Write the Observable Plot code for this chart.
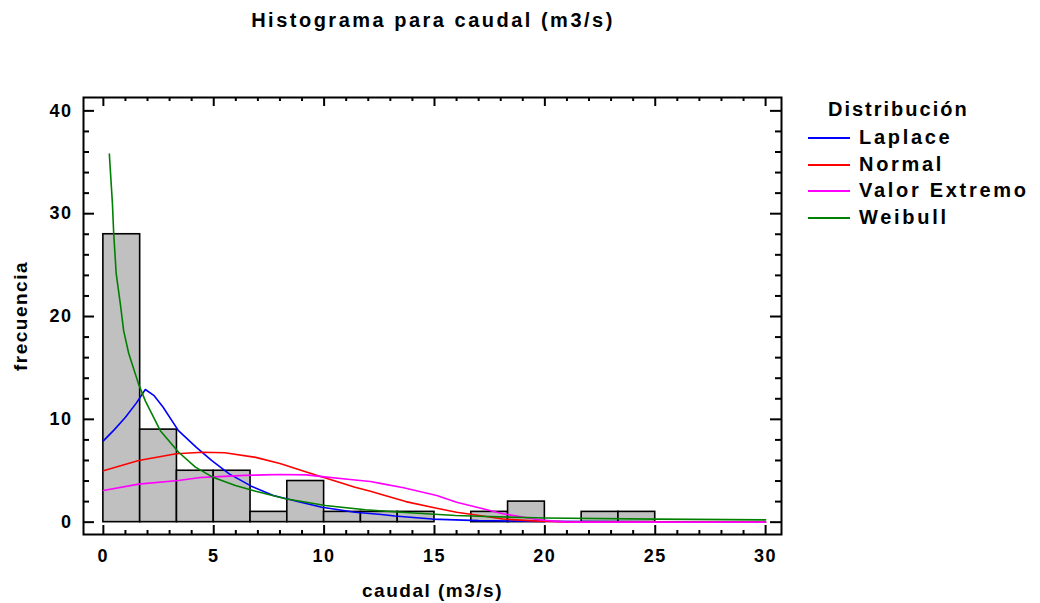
<!DOCTYPE html>
<html>
<head>
<meta charset="utf-8">
<script src="https://cdn.jsdelivr.net/npm/d3@7"></script>
<script src="https://cdn.jsdelivr.net/npm/@observablehq/plot@0.6"></script>
<style>
  body { margin: 0; background: #fff; }
  #wrap { position: relative; width: 1040px; height: 603px; overflow: hidden;
          font-family: "Liberation Sans", Arial, sans-serif; font-weight: bold; color: #000; }
  #plot { position: absolute; left: 0; top: 0; }
  #title { position: absolute; left: 0; top: 9px; width: 866px; text-align: center;
           font-size: 20px; line-height: 23px; letter-spacing: 2.5px; }
  .lg { position: absolute; font-size: 20px; line-height: 23px; letter-spacing: 2.7px; white-space: nowrap; }
  .sw { position: absolute; width: 42px; height: 2px; }
</style>
</head>
<body>
<div id="wrap">
  <div id="plot"></div>
  <div id="title">Histograma para caudal (m3/s)</div>
  <div id="legend"></div>
</div>
<script>
// ---- Histogram bins (caudal, m3/s) and counts ----
const binLo  = [0, 1.667, 3.333, 5, 6.667, 8.333, 10, 11.667, 13.333, 16.667, 18.333, 21.667, 23.333];
const binHi  = [1.667, 3.333, 5, 6.667, 8.333, 10, 11.667, 13.333, 15, 18.333, 20, 23.333, 25];
const counts = [28, 9, 5, 5, 1, 4, 1, 1, 1, 1, 2, 1, 1];

// ---- Fitted distributions ----
const series = ["Laplace", "Normal", "Valor Extremo", "Weibull"];
const colors = ["#0000ff", "#ff0000", "#ff00ff", "#008000"];

const laplaceX = [0, 0.5, 1.0, 1.5, 1.9, 2.3, 2.7, 3.4, 4.2, 4.9, 5.7, 6.7, 7.7, 8.8, 9.9, 11.4, 12.6, 13.2, 14.9, 17, 20, 25, 30];
const laplaceY = [7.9, 9.0, 10.2, 11.6, 12.9, 12.3, 11.2, 8.9, 7.3, 6.0, 4.7, 3.5, 2.6, 2.0, 1.45, 0.97, 0.75, 0.6, 0.3, 0.15, 0.08, 0.04, 0.02];

const normalX = [0, 1.6, 3.3, 4.5, 5.5, 6.9, 8.0, 9.3, 10.5, 11.4, 12.1, 12.6, 13.7, 15.1, 16.0, 16.8, 18.1, 19.7, 21, 22, 30];
const normalY = [5.0, 6.0, 6.65, 6.8, 6.75, 6.3, 5.7, 4.8, 4.0, 3.4, 3.0, 2.7, 2.0, 1.35, 0.97, 0.72, 0.3, 0.1, 0.03, 0, 0];

const extremoX = [0, 1.6, 3.4, 4.4, 5.0, 6.4, 7.3, 8.0, 9.2, 9.8, 11.4, 12.1, 12.6, 13.6, 15.1, 16.0, 16.6, 18.1, 19.65, 20.4, 21, 30];
const extremoY = [3.08, 3.7, 4.05, 4.35, 4.4, 4.55, 4.6, 4.63, 4.6, 4.45, 4.1, 3.95, 3.75, 3.35, 2.6, 1.94, 1.62, 0.82, 0.26, 0.1, 0, 0];

const weibullX = [0.27, 0.41, 0.47, 0.58, 0.77, 0.92, 1.15, 1.6, 1.9, 2.58, 3.41, 4.17, 4.93, 5.98, 6.9, 8.25, 10.06, 11.87, 13.5, 15.95, 17, 20, 25, 30];
const weibullY = [35.8, 31, 28, 24.2, 21.2, 18.6, 16.4, 13.4, 11.8, 8.9, 6.8, 5.35, 4.4, 3.57, 3.0, 2.27, 1.62, 1.2, 0.97, 0.65, 0.57, 0.4, 0.3, 0.22];

// ---- Axis ticks ----
const xMajor = [0, 5, 10, 15, 20, 25, 30];
const xMinor = [1, 2, 3, 4, 6, 7, 8, 9, 11, 12, 13, 14, 16, 17, 18, 19, 21, 22, 23, 24, 26, 27, 28, 29];
const yMajor = [0, 10, 20, 30, 40];
const yMinor = [2, 4, 6, 8, 12, 14, 16, 18, 22, 24, 26, 28, 32, 34, 36, 38];

// ---- Build tables ----
const bars = counts.map((c, i) => ({x1: binLo[i], x2: binHi[i], y: c}));
const xsAll = [laplaceX, normalX, extremoX, weibullX];
const ysAll = [laplaceY, normalY, extremoY, weibullY];
const curves = series.flatMap((s, i) => xsAll[i].map((x, j) => ({s, x, y: ysAll[i][j]})));

const W = 1040, H = 603, mL = 83, mR = 259, mT = 97, mB = 69;
const pW = W - mL - mR, pH = H - mT - mB;

const chart = Plot.plot({
  width: W, height: H,
  marginLeft: mL, marginRight: mR, marginTop: mT, marginBottom: mB,
  style: {fontFamily: '"Liberation Sans", Arial, sans-serif', fontWeight: "bold", fontSize: "18px",
          letterSpacing: "1.5px", color: "black", background: "transparent"},
  x: {domain: [-0.9, 30.72]},
  y: {domain: [-1.2, 41.3]},
  color: {domain: series, range: colors},
  marks: [
    Plot.rectY(bars, {x1: "x1", x2: "x2", y1: 0, y2: "y", fill: "#c0c0c0", stroke: "black", strokeWidth: 1.6}),
    Plot.line(curves, {x: "x", y: "y", z: "s", stroke: "s", strokeWidth: 1.6}),
    // inward ticks on all four sides
    Plot.tickX(xMajor, {x: d => d, insetTop: pH - 9, strokeWidth: 2}),
    Plot.tickX(xMinor, {x: d => d, insetTop: pH - 4, strokeWidth: 2}),
    Plot.tickX(xMajor, {x: d => d, insetBottom: pH - 9, strokeWidth: 2}),
    Plot.tickX(xMinor, {x: d => d, insetBottom: pH - 4, strokeWidth: 2}),
    Plot.tickY(yMajor, {y: d => d, insetRight: pW - 11, strokeWidth: 2}),
    Plot.tickY(yMinor, {y: d => d, insetRight: pW - 6, strokeWidth: 2}),
    Plot.tickY(yMajor, {y: d => d, insetLeft: pW - 11, strokeWidth: 2}),
    Plot.tickY(yMinor, {y: d => d, insetLeft: pW - 6, strokeWidth: 2}),
    Plot.frame({stroke: "black", strokeWidth: 2}),
    Plot.axisX({ticks: xMajor, tickSize: 0, tickPadding: 15, tickFormat: d => String(d), label: null}),
    Plot.axisX({ticks: [], tickSize: 0, fontSize: 19, letterSpacing: "3px",
                label: "caudal (m3/s)", labelAnchor: "center", labelArrow: "none", labelOffset: 62}),
    Plot.axisY({ticks: yMajor, tickSize: 0, tickPadding: 11, tickFormat: d => String(d), label: null}),
    Plot.axisY({ticks: [], tickSize: 0, fontSize: 19, letterSpacing: "3px",
                label: "frecuencia", labelAnchor: "center", labelArrow: "none", labelOffset: 70})
  ]
});
document.getElementById("plot").appendChild(chart);

// ---- Legend ----
const legend = document.getElementById("legend");
const lgTitle = document.createElement("div");
lgTitle.className = "lg";
lgTitle.style.left = "828px";
lgTitle.style.top = "98px";
lgTitle.style.letterSpacing = "2px";
lgTitle.textContent = "Distribución";
legend.appendChild(lgTitle);
const rowY = [138, 165, 191, 218];
series.forEach((s, i) => {
  const sw = document.createElement("div");
  sw.className = "sw";
  sw.style.left = "808px";
  sw.style.top = (rowY[i] - 1) + "px";
  sw.style.background = colors[i];
  legend.appendChild(sw);
  const t = document.createElement("div");
  t.className = "lg";
  t.style.left = "859px";
  t.style.top = (rowY[i] - 12) + "px";
  t.textContent = s;
  legend.appendChild(t);
});
</script>
</body>
</html>
